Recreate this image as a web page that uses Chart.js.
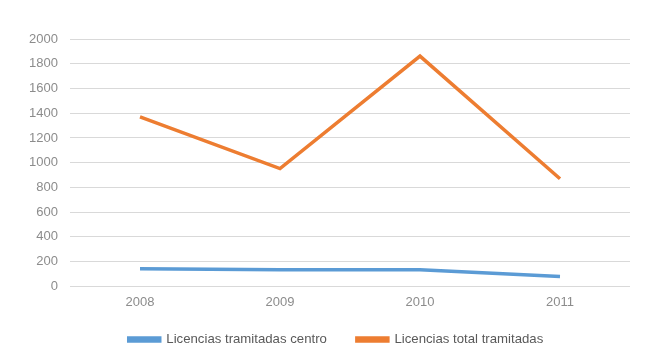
<!DOCTYPE html>
<html><head><meta charset="utf-8">
<script src="https://cdn.jsdelivr.net/npm/chart.js@4/dist/chart.umd.min.js"></script>
<style>html,body{margin:0;padding:0;background:#fff}#wrap{width:650px;height:360px}</style>
</head><body><div id="wrap"><canvas id="c" width="650" height="360"></canvas></div>
<script>
const categories = ["2008", "2009", "2010", "2011"];
const centro = [143, 135, 134, 81];
const total = [1371, 952, 1862, 870];
const yTicks = [0, 200, 400, 600, 800, 1000, 1200, 1400, 1600, 1800, 2000];

const LEG_PAD = 30;
const LEG_H = 44;
const LEG_SHIFT = 23;
const LEG_DX = 21;
const legendTrim = {
  id: 'legendTrim',
  afterInit(chart) {
    const lg = chart.legend;
    if (!lg) return;
    const orig = lg.fit;
    lg.fit = function () { orig.call(this); this.height = LEG_H; };
  },
  afterLayout(chart) {
    const lg = chart.legend;
    if (lg) {
      lg.top = lg.top - LEG_PAD + LEG_SHIFT;
      lg.left += LEG_DX; lg.right += LEG_DX;
    }
  }
};

new Chart(document.getElementById('c'), {
  type: 'line',
  data: {
    labels: categories,
    datasets: [
      {label: 'Licencias tramitadas centro', data: centro, borderColor: '#5B9BD5', backgroundColor: '#5B9BD5', borderWidth: 3.5, pointRadius: 0, tension: 0},
      {label: 'Licencias total tramitadas', data: total, borderColor: '#ED7D31', backgroundColor: '#ED7D31', borderWidth: 3.5, pointRadius: 0, tension: 0}
    ]
  },
  plugins: [legendTrim],
  options: {
    responsive: false, animation: false, devicePixelRatio: 1,
    layout: {padding: {top: 39, right: 20, bottom: 6, left: 0}},
    plugins: {
      tooltip: {enabled: false},
      legend: {position: 'bottom', labels: {boxWidth: 31, boxHeight: 3, color: '#595959', font: {family: 'Liberation Sans, Arial', size: 13.2}, padding: LEG_PAD}}
    },
    scales: {
      x: {offset: true, grid: {display: false}, border: {display: false},
          ticks: {color: '#8c8c8c', font: {family: 'Liberation Sans, Arial', size: 13}, padding: 0}},
      y: {min: 0, max: 2000, afterFit: s => { s.width = 70; },
          afterBuildTicks: s => { s.ticks = yTicks.map(v => ({value: v})); },
          grid: {color: '#d9d9d9', lineWidth: 1, drawTicks: false}, border: {display: false},
          ticks: {color: '#8c8c8c', font: {family: 'Liberation Sans, Arial', size: 13}, padding: 12,
                  callback: v => String(v)}}
    }
  }
});
</script></body></html>
